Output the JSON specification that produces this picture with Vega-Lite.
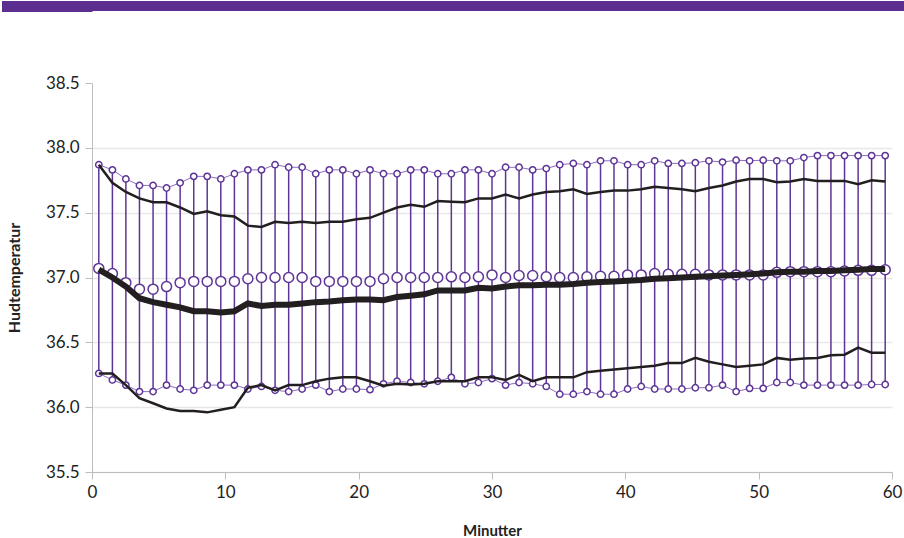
{
  "$schema": "https://vega.github.io/schema/vega-lite/v6.json",
  "padding": 0,
  "spacing": 62,
  "config": {"font": "Lato", "view": {"stroke": null}},
  "datasets": {
    "temp": [
      {"x": 0.51, "U": 37.87, "UL": 37.87, "M": 37.07, "ML": 37.06, "L": 36.26, "LL": 36.26},
      {"x": 1.53, "U": 37.83, "UL": 37.73, "M": 37.03, "ML": 37.0, "L": 36.21, "LL": 36.26},
      {"x": 2.54, "U": 37.76, "UL": 37.66, "M": 36.96, "ML": 36.93, "L": 36.17, "LL": 36.17},
      {"x": 3.56, "U": 37.71, "UL": 37.61, "M": 36.91, "ML": 36.84, "L": 36.12, "LL": 36.07},
      {"x": 4.58, "U": 37.71, "UL": 37.58, "M": 36.91, "ML": 36.81, "L": 36.12, "LL": 36.03},
      {"x": 5.59, "U": 37.69, "UL": 37.58, "M": 36.93, "ML": 36.79, "L": 36.17, "LL": 35.99},
      {"x": 6.61, "U": 37.73, "UL": 37.54, "M": 36.96, "ML": 36.77, "L": 36.14, "LL": 35.97},
      {"x": 7.63, "U": 37.78, "UL": 37.49, "M": 36.97, "ML": 36.74, "L": 36.13, "LL": 35.97},
      {"x": 8.64, "U": 37.78, "UL": 37.51, "M": 36.97, "ML": 36.74, "L": 36.17, "LL": 35.96},
      {"x": 9.66, "U": 37.76, "UL": 37.48, "M": 36.97, "ML": 36.73, "L": 36.17, "LL": 35.98},
      {"x": 10.68, "U": 37.8, "UL": 37.47, "M": 36.97, "ML": 36.74, "L": 36.17, "LL": 36.0},
      {"x": 11.69, "U": 37.83, "UL": 37.4, "M": 36.99, "ML": 36.8, "L": 36.14, "LL": 36.15},
      {"x": 12.71, "U": 37.83, "UL": 37.39, "M": 37.0, "ML": 36.78, "L": 36.16, "LL": 36.17},
      {"x": 13.73, "U": 37.87, "UL": 37.43, "M": 37.0, "ML": 36.79, "L": 36.13, "LL": 36.13},
      {"x": 14.75, "U": 37.85, "UL": 37.42, "M": 37.0, "ML": 36.79, "L": 36.12, "LL": 36.17},
      {"x": 15.76, "U": 37.85, "UL": 37.43, "M": 37.0, "ML": 36.8, "L": 36.14, "LL": 36.17},
      {"x": 16.78, "U": 37.8, "UL": 37.42, "M": 36.97, "ML": 36.81, "L": 36.17, "LL": 36.2},
      {"x": 17.8, "U": 37.83, "UL": 37.43, "M": 36.97, "ML": 36.815, "L": 36.12, "LL": 36.22},
      {"x": 18.81, "U": 37.83, "UL": 37.43, "M": 36.97, "ML": 36.825, "L": 36.14, "LL": 36.23},
      {"x": 19.83, "U": 37.8, "UL": 37.45, "M": 36.97, "ML": 36.83, "L": 36.14, "LL": 36.23},
      {"x": 20.85, "U": 37.83, "UL": 37.46, "M": 36.97, "ML": 36.83, "L": 36.135, "LL": 36.2},
      {"x": 21.86, "U": 37.8, "UL": 37.5, "M": 36.99, "ML": 36.825, "L": 36.18, "LL": 36.165},
      {"x": 22.88, "U": 37.8, "UL": 37.54, "M": 37.0, "ML": 36.85, "L": 36.2, "LL": 36.18},
      {"x": 23.9, "U": 37.83, "UL": 37.56, "M": 37.0, "ML": 36.86, "L": 36.19, "LL": 36.175},
      {"x": 24.92, "U": 37.83, "UL": 37.545, "M": 37.0, "ML": 36.87, "L": 36.18, "LL": 36.18},
      {"x": 25.93, "U": 37.8, "UL": 37.59, "M": 37.0, "ML": 36.9, "L": 36.2, "LL": 36.2},
      {"x": 26.95, "U": 37.8, "UL": 37.585, "M": 37.005, "ML": 36.9, "L": 36.23, "LL": 36.2},
      {"x": 27.97, "U": 37.83, "UL": 37.58, "M": 37.0, "ML": 36.9, "L": 36.18, "LL": 36.2},
      {"x": 28.98, "U": 37.83, "UL": 37.61, "M": 37.005, "ML": 36.92, "L": 36.19, "LL": 36.23},
      {"x": 30.0, "U": 37.8, "UL": 37.61, "M": 37.02, "ML": 36.915, "L": 36.22, "LL": 36.23},
      {"x": 31.02, "U": 37.85, "UL": 37.64, "M": 37.0, "ML": 36.93, "L": 36.17, "LL": 36.21},
      {"x": 32.03, "U": 37.85, "UL": 37.61, "M": 37.015, "ML": 36.94, "L": 36.19, "LL": 36.25},
      {"x": 33.05, "U": 37.83, "UL": 37.64, "M": 37.015, "ML": 36.94, "L": 36.18, "LL": 36.2},
      {"x": 34.07, "U": 37.84, "UL": 37.66, "M": 37.005, "ML": 36.945, "L": 36.16, "LL": 36.23},
      {"x": 35.08, "U": 37.87, "UL": 37.665, "M": 37.0, "ML": 36.945, "L": 36.1, "LL": 36.23},
      {"x": 36.1, "U": 37.88, "UL": 37.68, "M": 37.0, "ML": 36.95, "L": 36.1, "LL": 36.23},
      {"x": 37.12, "U": 37.87, "UL": 37.645, "M": 37.005, "ML": 36.96, "L": 36.12, "LL": 36.27},
      {"x": 38.14, "U": 37.9, "UL": 37.66, "M": 37.01, "ML": 36.965, "L": 36.1, "LL": 36.28},
      {"x": 39.15, "U": 37.9, "UL": 37.67, "M": 37.01, "ML": 36.97, "L": 36.1, "LL": 36.29},
      {"x": 40.17, "U": 37.87, "UL": 37.67, "M": 37.02, "ML": 36.975, "L": 36.14, "LL": 36.3},
      {"x": 41.19, "U": 37.87, "UL": 37.68, "M": 37.02, "ML": 36.98, "L": 36.16, "LL": 36.31},
      {"x": 42.2, "U": 37.9, "UL": 37.7, "M": 37.03, "ML": 36.99, "L": 36.14, "LL": 36.32},
      {"x": 43.22, "U": 37.88, "UL": 37.69, "M": 37.025, "ML": 36.995, "L": 36.14, "LL": 36.34},
      {"x": 44.24, "U": 37.88, "UL": 37.68, "M": 37.025, "ML": 37.0, "L": 36.14, "LL": 36.34},
      {"x": 45.25, "U": 37.885, "UL": 37.665, "M": 37.025, "ML": 37.005, "L": 36.15, "LL": 36.38},
      {"x": 46.27, "U": 37.9, "UL": 37.69, "M": 37.02, "ML": 37.01, "L": 36.15, "LL": 36.35},
      {"x": 47.29, "U": 37.89, "UL": 37.71, "M": 37.02, "ML": 37.015, "L": 36.17, "LL": 36.33},
      {"x": 48.31, "U": 37.905, "UL": 37.74, "M": 37.02, "ML": 37.02, "L": 36.12, "LL": 36.31},
      {"x": 49.32, "U": 37.9, "UL": 37.76, "M": 37.02, "ML": 37.025, "L": 36.145, "LL": 36.32},
      {"x": 50.34, "U": 37.905, "UL": 37.76, "M": 37.02, "ML": 37.03, "L": 36.145, "LL": 36.33},
      {"x": 51.36, "U": 37.9, "UL": 37.735, "M": 37.04, "ML": 37.04, "L": 36.19, "LL": 36.38},
      {"x": 52.37, "U": 37.9, "UL": 37.74, "M": 37.045, "ML": 37.045, "L": 36.19, "LL": 36.365},
      {"x": 53.39, "U": 37.925, "UL": 37.76, "M": 37.045, "ML": 37.045, "L": 36.17, "LL": 36.375},
      {"x": 54.41, "U": 37.94, "UL": 37.745, "M": 37.045, "ML": 37.05, "L": 36.17, "LL": 36.38},
      {"x": 55.42, "U": 37.94, "UL": 37.745, "M": 37.045, "ML": 37.05, "L": 36.17, "LL": 36.4},
      {"x": 56.44, "U": 37.94, "UL": 37.745, "M": 37.05, "ML": 37.055, "L": 36.17, "LL": 36.405},
      {"x": 57.46, "U": 37.94, "UL": 37.72, "M": 37.055, "ML": 37.06, "L": 36.17, "LL": 36.46},
      {"x": 58.47, "U": 37.94, "UL": 37.75, "M": 37.055, "ML": 37.065, "L": 36.175, "LL": 36.42},
      {"x": 59.49, "U": 37.94, "UL": 37.74, "M": 37.06, "ML": 37.065, "L": 36.175, "LL": 36.42}
    ]
  },
  "vconcat": [
    {
      "width": 812,
      "height": 10,
      "data": {"values": [{"band": "a"}, {"band": "b"}, {"band": "c"}, {"band": "d"}, {"band": "e"}]},
      "mark": {"type": "rect", "color": "#5b2e90"},
      "encoding": {
        "y": {
          "field": "band",
          "type": "nominal",
          "scale": {"paddingInner": 0, "paddingOuter": 0},
          "axis": {
            "title": null,
            "labels": false,
            "domain": false,
            "grid": false,
            "ticks": true,
            "tickSize": 90.5,
            "tickWidth": 3,
            "tickColor": "#5b2e90",
            "minExtent": 0
          }
        }
      }
    },
    {
      "width": 800,
      "height": 389,
      "data": {"name": "temp"},
      "encoding": {
        "x": {
          "field": "x",
          "type": "quantitative",
          "scale": {"domain": [0, 60], "nice": false, "zero": false},
          "axis": {
            "values": [0, 10, 20, 30, 40, 50, 60],
            "grid": false,
            "domainColor": "#bdbdbd",
            "tickColor": "#bdbdbd",
            "tickSize": 7,
            "labelFontSize": 17,
            "labelColor": "#222222",
            "labelPadding": 5,
            "labelFlush": false,
            "title": "Minutter",
            "titleFontSize": 15,
            "titleFontWeight": "bold",
            "titleColor": "#222222",
            "titlePadding": 23
          }
        }
      },
      "layer": [
        {
          "mark": {"type": "rule", "color": "#5e3596", "strokeWidth": 1.5},
          "encoding": {
            "y": {
              "field": "L",
              "type": "quantitative",
              "scale": {"domain": [35.5, 38.5], "nice": false, "zero": false},
              "axis": {
                "values": [35.5, 36, 36.5, 37, 37.5, 38, 38.5],
                "format": ".1f",
                "gridColor": {"condition": {"test": "datum.value >= 38.5", "value": "transparent"}, "value": "#e8e8e8"},
                "gridWidth": 1.5,
                "domainColor": "#bdbdbd",
                "tickColor": "#bdbdbd",
                "tickSize": 7,
                "labelFontSize": 17,
                "labelColor": "#222222",
                "labelPadding": 6,
                "title": "Hudtemperatur",
                "titleFontSize": 16,
                "titleFontWeight": "bold",
                "titleColor": "#222222",
                "titleX": -70,
                "titleBaseline": "bottom",
                "titlePadding": 10
              }
            },
            "y2": {"field": "U"}
          }
        },
        {
          "mark": {"type": "line", "color": "#8c6cbf", "strokeWidth": 1},
          "encoding": {"y": {"field": "U", "type": "quantitative"}}
        },
        {
          "mark": {"type": "line", "color": "#8c6cbf", "strokeWidth": 1},
          "encoding": {"y": {"field": "L", "type": "quantitative"}}
        },
        {
          "mark": {"type": "point", "filled": true, "fill": "white", "stroke": "#5e3596", "strokeWidth": 1.5, "size": 40, "opacity": 1},
          "encoding": {"y": {"field": "U", "type": "quantitative"}}
        },
        {
          "mark": {"type": "point", "filled": true, "fill": "white", "stroke": "#5e3596", "strokeWidth": 1.5, "size": 40, "opacity": 1},
          "encoding": {"y": {"field": "L", "type": "quantitative"}}
        },
        {
          "mark": {"type": "point", "filled": true, "fill": "white", "stroke": "#5e3596", "strokeWidth": 1.5, "size": 100, "opacity": 1},
          "encoding": {"y": {"field": "M", "type": "quantitative"}}
        },
        {
          "mark": {"type": "line", "color": "#231f20", "strokeWidth": 2.5},
          "encoding": {"y": {"field": "UL", "type": "quantitative"}}
        },
        {
          "mark": {"type": "line", "color": "#231f20", "strokeWidth": 2.5},
          "encoding": {"y": {"field": "LL", "type": "quantitative"}}
        },
        {
          "mark": {"type": "line", "color": "#231f20", "strokeWidth": 6},
          "encoding": {"y": {"field": "ML", "type": "quantitative"}}
        }
      ]
    }
  ]
}
